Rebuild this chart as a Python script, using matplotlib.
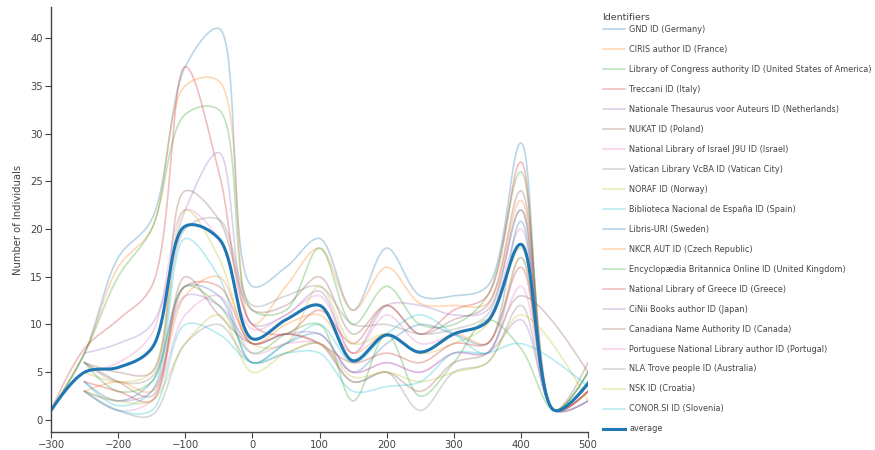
import numpy as np
import matplotlib
matplotlib.use("Agg")
import matplotlib.pyplot as plt

nan = np.nan

# x positions (years) of the data points
years = [-300, -250, -200, -150, -100, -50, 0, 50, 100, 150, 200, 250, 300, 350, 400, 450, 500]

names = [
    "GND ID (Germany)",
    "CIRIS author ID (France)",
    "Library of Congress authority ID (United States of America)",
    "Treccani ID (Italy)",
    "Nationale Thesaurus voor Auteurs ID (Netherlands)",
    "NUKAT ID (Poland)",
    "National Library of Israel J9U ID (Israel)",
    "Vatican Library VcBA ID (Vatican City)",
    "NORAF ID (Norway)",
    "Biblioteca Nacional de España ID (Spain)",
    "Libris-URI (Sweden)",
    "NKCR AUT ID (Czech Republic)",
    "Encyclopædia Britannica Online ID (United Kingdom)",
    "National Library of Greece ID (Greece)",
    "CiNii Books author ID (Japan)",
    "Canadiana Name Authority ID (Canada)",
    "Portuguese National Library author ID (Portugal)",
    "NLA Trove people ID (Australia)",
    "NSK ID (Croatia)",
    "CONOR.SI ID (Slovenia)",
]

gnd       = [1, 7, 17, 21, 37, 41, 14, 16, 19, 11.5, 18, 13, 13, 14, 29, 1, 4]
ciris     = [1, 7, 16, 20, 35, 35.5, 10, 14, 18, 11.5, 16, 12.2, 12, 12.2, 23, 1, 3]
loc_us    = [1, 7, 15, 20, 32, 32.5, 11.5, 11.5, 18, 10, 14, 10, 10, 13, 26, 1, 5]
treccani  = [1, 7.5, 10.5, 14, 37, 26, 10, 9, 11.5, 8, 12, 9, 11.5, 13, 27, 1, 3]
nta       = [nan, 7, 8, 10, 22, 28, 10, 11, 13.5, 7, 12, 12, 11, 11.5, 22, 1, 2]
nukat     = [nan, 6, 5, 5, 24, 21, 11.5, 12, 15, 9, 12, 9, 10.5, 12, 24, 1, 6]
nli       = [nan, 5, 6, 9, 22, 19, 9.5, 11, 13, 7, 11, 8, 9, 10.5, 20, 1, 3]
vatican   = [nan, 6, 4, 4.5, 20, 21, 12, 13, 14, 10, 10, 9, 9.5, 11, 22, 1, 5]
noraf     = [nan, 5, 4, 5, 22, 17, 8, 8, 14, 8, 9, 7, 8, 10, 18, 1, 3]
bne       = [nan, 4, 1.5, 3, 19, 15, 6, 8, 10, 6, 9, 11, 9, 7, 17, 1, 3]
libris    = [nan, 4, 2, 4, 14, 13, 6, 8, 9, 5, 8, 10, 9, 8, 20.8, 1, 4]
nkcr      = [nan, 3, 4, 3, 13, 15, 8, 10, 11, 7, 9, 7, 9, 8, 17, 1, 3]
britannica = [nan, 6, 3, 4, 14, 12, 7, 9, 10, 2, 9, 2.5, 6, 10.5, 7.5, 1, 5]
nlg       = [nan, 4, 3, 2, 14, 14, 8, 9, 8, 6, 7, 6, 8, 8, 16, 1, 3]
cinii     = [nan, 3, 2, 3, 13, 12, 8, 9, 9, 5, 6, 5, 7, 7, 10.5, 1, 2]
canadiana = [nan, 6, 4, 2.5, 15, 11, 8, 9, 8, 4, 5, 3, 6, 7, 13, nan, 5]
portugal  = [nan, 3, 1, 2, 11, 13, 7, 8, 8, 5, 6, 5, 7, 7, 14, 1, 3]
nla       = [nan, 3, 1, 0.5, 8, 10, 6, 7, 8, 4, 5, 1, 5, 6, 12, 1, 2]
nsk       = [nan, 3, 2, 2, 8, 11, 5, 7, 8, 4.5, 5, 4, 5, 6, 11, nan, 2]
conor     = [nan, 3, 1, 1, 10, 9, 6, 7, 7, 3, 3.5, 4, 7, 7, 8, nan, 3.5]

average = [1, 5, 5.5, 7.5, 20.3, 19, 8.5, 10.5, 12, 6.2, 8.9, 7.1, 9, 10.3, 18.4, 1, 3.8]

series = [gnd, ciris, loc_us, treccani, nta, nukat, nli, vatican, noraf, bne,
          libris, nkcr, britannica, nlg, cinii, canadiana, portugal, nla, nsk, conor]

palette = ['#1f77b4', '#ff7f0e', '#2ca02c', '#d62728', '#9467bd',
           '#8c564b', '#e377c2', '#7f7f7f', '#bcbd22', '#17becf']


def make_tangent(p0, p1, p2, s):
    # same tangent rule plotly uses for its 'spline' line shape
    d1 = p0 - p1
    d2 = p2 - p1
    d1a = np.hypot(*d1) ** 0.5
    d2a = np.hypot(*d2) ** 0.5
    num = (d2a * d2a * d1 - d1a * d1a * d2) * s
    den1 = 3 * d2a * (d1a + d2a)
    den2 = 3 * d1a * (d1a + d2a)
    return p1 + (num / den1 if den1 else 0), p1 - (num / den2 if den2 else 0)


def spline_pts(pts, s=1.0, n=40):
    if len(pts) < 3:
        return pts
    tg = [make_tangent(pts[i - 1], pts[i], pts[i + 1], s) for i in range(1, len(pts) - 1)]
    t = np.linspace(0, 1, n)[1:, None]
    out = [pts[:1]]
    p0, c, p1 = pts[0], tg[0][0], pts[1]
    out.append((1 - t) ** 2 * p0 + 2 * (1 - t) * t * c + t ** 2 * p1)
    for i in range(2, len(pts) - 1):
        p0, c1, c2, p1 = pts[i - 1], tg[i - 2][1], tg[i - 1][0], pts[i]
        out.append((1 - t) ** 3 * p0 + 3 * (1 - t) ** 2 * t * c1
                   + 3 * (1 - t) * t ** 2 * c2 + t ** 3 * p1)
    p0, c, p1 = pts[-2], tg[-1][1], pts[-1]
    out.append((1 - t) ** 2 * p0 + 2 * (1 - t) * t * c + t ** 2 * p1)
    return np.vstack(out)


def smooth_line(ax, xs, ys, **kw):
    xs = np.asarray(xs, float)
    ys = np.asarray(ys, float)
    ok = ~np.isnan(ys)
    disp = ax.transData.transform(np.column_stack([xs[ok], ys[ok]]))
    curve = ax.transData.inverted().transform(spline_pts(disp))
    return ax.plot(curve[:, 0], curve[:, 1], **kw)


W, H = 875, 450
fig = plt.figure(figsize=(W / 100, H / 100), dpi=100)
ax = fig.add_axes([51 / W, (H - 432) / H, (588 - 51) / W, (432 - 7) / H])
ax.set_xlim(-300, 500)
ax.set_ylim(-1.26, 43.25)

txt = '#444444'
for i, ys in enumerate(series):
    smooth_line(ax, years, ys, color=palette[i % 10], alpha=0.3, lw=1.2,
                label=names[i])
smooth_line(ax, years, average, color='#1f77b4', lw=2.2, label='average')

ax.set_xticks(range(-300, 501, 100))
ax.set_yticks(range(0, 41, 5))
for side in ['top', 'right']:
    ax.spines[side].set_visible(False)
for side in ['left', 'bottom']:
    ax.spines[side].set_color(txt)
    ax.spines[side].set_linewidth(1.0)
ax.tick_params(colors=txt, labelsize=7.2, length=4, width=0.8, pad=2)
ax.set_ylabel('Number of Individuals', fontsize=7.2, color=txt, labelpad=5)

leg = ax.legend(loc='upper left', bbox_to_anchor=(603 / W, 1 - 25 / H),
                bbox_transform=fig.transFigure, frameon=False,
                fontsize=5.85, handlelength=2.75, handletextpad=0.5,
                labelspacing=1.35, borderaxespad=0, borderpad=0)
for t in leg.get_texts():
    t.set_color(txt)
fig.text(602 / W, 1 - 17 / H, 'Identifiers', fontsize=6.8, color=txt,
         ha='left', va='center')

fig.savefig('out.png', dpi=100)
